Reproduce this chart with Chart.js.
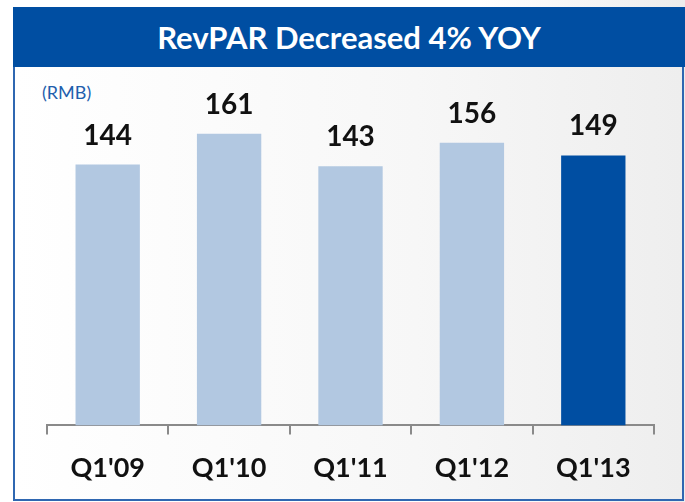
<!DOCTYPE html>
<html>
<head>
<meta charset="utf-8">
<script src="https://cdn.jsdelivr.net/npm/chart.js@4/dist/chart.umd.min.js"></script>
<style>
  html, body { margin: 0; padding: 0; }
  body {
    width: 685px; height: 502px; position: relative; overflow: hidden;
    background: linear-gradient(to right, #ffffff 0%, #ffffff 70%, #ececec 100%);
    font-family: Lato, "Open Sans", sans-serif;
  }
  .banner {
    position: absolute; left: 13px; top: 7px; width: 672px; height: 60px;
    background: #004ea2; color: #fff; font-size: 31px; line-height: 60px;
    text-align: center; font-weight: bold;
  }
  .panel {
    position: absolute; left: 13px; top: 67px; width: 667px; height: 432px;
    border: 2px solid #2f67b1; border-top: none;
    background: linear-gradient(to right, #ffffff 0%, #f7f7f7 60%, #eeeeee 100%);
  }
  .unit {
    position: absolute; left: 42px; top: 81px; color: #1f5fad; font-size: 18px;
  }
  .wrap { position: absolute; left: 0; top: 0; width: 685px; height: 502px; }
</style>
</head>
<body>
<div class="banner">RevPAR Decreased 4% YOY</div>
<div class="panel"></div>
<div class="unit">(RMB)</div>
<div class="wrap"><canvas id="chart"></canvas></div>
<script>
const categories = ["Q1'09", "Q1'10", "Q1'11", "Q1'12", "Q1'13"];
const revpar = [144, 161, 143, 156, 149];
const barColors = ['#b2c8e1', '#b2c8e1', '#b2c8e1', '#b2c8e1', '#004ea2'];

const valueLabels = {
    id: 'valueLabels',
    afterDatasetsDraw(chart) {
        const { ctx } = chart;
        const meta = chart.getDatasetMeta(0);
        ctx.save();
        ctx.font = 'bold 28px Lato, sans-serif';
        ctx.fillStyle = '#111';
        ctx.textAlign = 'center';
        ctx.textBaseline = 'middle';
        meta.data.forEach((bar, i) => {
            ctx.fillText(String(revpar[i]), bar.x, bar.y - 29);
        });
        ctx.restore();
    },
};

new Chart(document.getElementById('chart'), {
    type: 'bar',
    data: {
        labels: categories,
        datasets: [{
            data: revpar,
            backgroundColor: barColors,
            borderWidth: 0,
            categoryPercentage: 0.53,
            barPercentage: 1,
        }],
    },
    options: {
        responsive: true,
        maintainAspectRatio: false,
        animation: false,
        layout: { padding: { left: 47, right: 31, top: 63, bottom: 0 } },
        plugins: { legend: { display: false }, tooltip: { enabled: false } },
        scales: {
            y: { display: false, min: 0, max: 200 },
            x: {
                offset: true,
                grid: {
                    offset: true,
                    drawOnChartArea: false,
                    tickLength: 9,
                    color: '#8a8a8a',
                    lineWidth: 2,
                },
                border: { color: '#8a8a8a', width: 2 },
                ticks: {
                    color: '#111',
                    padding: 23,
                    font: { family: 'Lato, sans-serif', size: 27, weight: 'bold', lineHeight: 0.8 },
                },
            },
        },
    },
    plugins: [valueLabels],
});
</script>
</body>
</html>
